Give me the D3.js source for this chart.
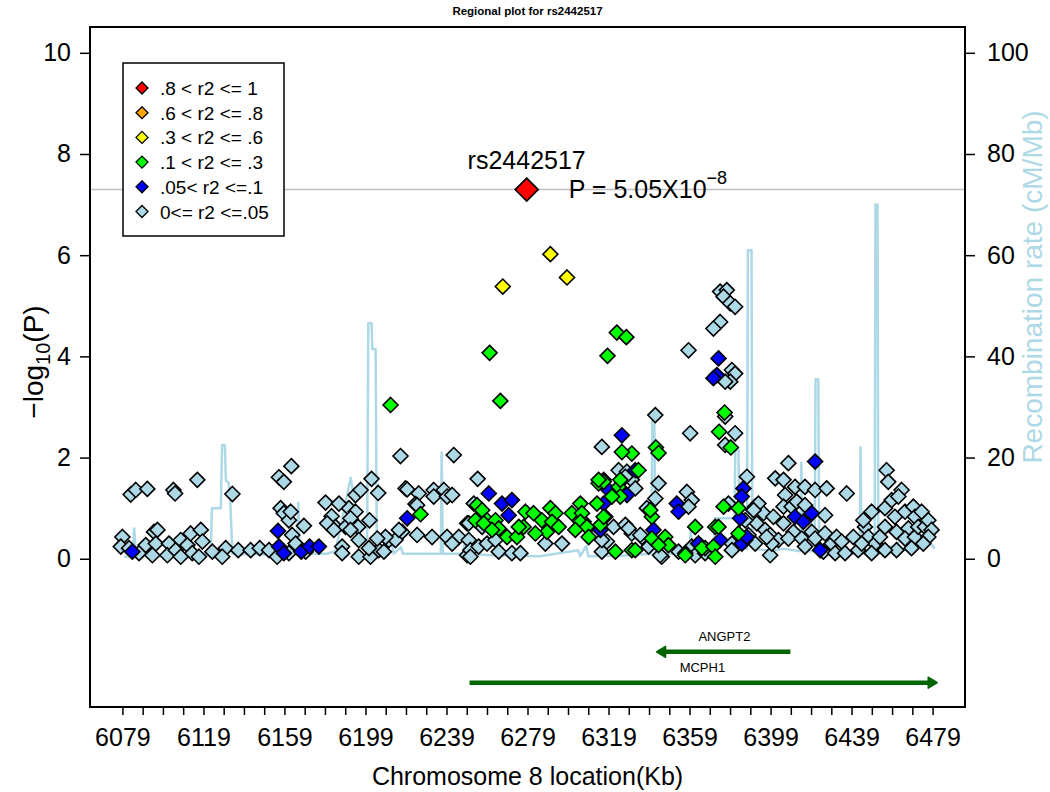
<!DOCTYPE html>
<html><head><meta charset="utf-8">
<script src="https://cdn.jsdelivr.net/npm/d3@7"></script>
<style>body{margin:0;background:#fff} text{font-family:"Liberation Sans",Arial,sans-serif;fill:#000}</style>
</head><body><svg id="c" width="1050" height="792"></svg>
<script>
// ---------- data ----------
const xTickLabels = [6079,6119,6159,6199,6239,6279,6319,6359,6399,6439,6479];
const yTickLabels = [0,2,4,6,8,10];
const recTickLabels = [0,20,40,60,80,100];
const legendLabels = [".8 < r2 <= 1",".6 < r2 <= .8",".3 < r2 <= .6",".1 < r2 <= .3",".05< r2 <=.1","0<= r2 <=.05"];
const legendColors = ["#FF0000","#FFA500","#FFFF00","#00FF00","#0000FF","#ADD8E6"];
const leadSnp = {name:"rs2442517", kb:6278.6, logp:7.2967, p:"5.05"};
const genomeWideLine = 7.3;

const snpRed = [[6278.6,7.2967]];
const snpYellow = [[6266.8,5.38],[6290.3,6.02],[6298.5,5.56]];
const snpGreen = [[6211.4,3.04],[6260.3,4.07],[6265.6,3.12],[6318.5,4.01],[6323.1,4.47],[6327.8,4.38],[6342.4,2.20],[6343.7,2.09],[6376.3,2.89],[6373.6,2.51],[6379.4,2.20],[6330.5,2.08],[6325.6,2.11],[6226.2,0.88],[6254.1,1.06],[6256.6,0.96],[6253.3,0.76],[6259.0,0.76],[6257.4,0.70],[6263.2,0.76],[6264.8,0.60],[6261.5,0.57],[6268.9,0.43],[6273.8,0.43],[6277.1,0.63],[6278.0,0.93],[6282.0,0.90],[6286.1,0.76],[6290.3,1.00],[6292.8,0.90],[6291.1,0.73],[6294.4,0.63],[6288.6,0.53],[6282.9,0.50],[6274.7,0.63],[6300.9,0.90],[6305.1,1.09],[6305.9,0.90],[6305.1,0.73],[6308.3,0.63],[6309.2,0.43],[6302.6,0.57],[6314.1,1.49],[6316.6,1.52],[6324.0,1.42],[6324.8,1.23],[6320.7,1.23],[6313.3,1.09],[6317.4,0.83],[6315.0,0.67],[6322.4,0.14],[6333.8,1.75],[6340.4,0.83],[6330.5,0.17],[6340.4,0.40],[6347.0,0.43],[6348.6,0.27],[6361.8,0.63],[6356.9,0.11],[6366.7,0.21],[6371.7,0.63],[6324.8,1.56],[6314.1,1.56],[6316.6,0.83],[6339.6,0.96],[6373.3,0.63],[6375.8,1.03],[6383.2,1.00],[6383.2,0.50],[6343.7,0.27],[6332.2,0.17],[6356.9,0.07],[6365.1,0.21],[6370.8,0.24],[6371.7,0.04]];
const snpBlue = [[6083.9,0.14],[6155.8,0.55],[6156.3,0.24],[6158.7,0.11],[6167.3,0.14],[6171.4,0.24],[6176.0,0.24],[6219.6,0.80],[6259.9,1.29],[6266.4,1.09],[6271.3,1.16],[6269.7,0.86],[6325.6,2.44],[6316.6,1.09],[6315.0,0.57],[6328.1,1.26],[6332.2,1.75],[6341.2,0.57],[6352.7,1.09],[6353.6,0.93],[6363.4,0.30],[6373.3,3.96],[6372.5,3.63],[6370.8,3.57],[6385.6,1.39],[6384.8,1.23],[6384.0,0.80],[6374.1,0.37],[6384.8,0.30],[6387.3,0.43],[6319.0,1.36],[6421.0,1.92],[6411.1,0.83],[6415.2,0.73],[6419.3,0.90],[6423.5,0.17]];
const snpLight = [
[6083.1,1.27],[6085.6,1.36],[6091.3,1.38],[6104.2,1.36],[6105.0,1.29],[6116.0,1.56],[6133.3,1.28],[6156.3,1.61],[6158.7,1.52],[6162.4,1.83],
[6179.3,1.11],[6182.3,0.84],[6184.2,0.63],[6180.1,0.70],[6194.1,1.26],[6196.6,1.36],[6202.0,1.58],[6205.3,1.30],[6216.3,2.03],[6218.8,1.39],
[6190.8,1.00],[6194.1,0.93],[6201.0,0.76],[6195.4,0.63],[6189.2,0.63],[6187.5,0.24],[6195.7,0.04],[6201.5,0.04],[6205.6,0.17],[6210.5,0.37],
[6217.1,0.53],[6213.8,0.37],[6208.9,0.43],[6079.0,0.43],[6078.2,0.24],[6082.3,0.21],[6087.2,0.11],[6090.5,0.27],[6094.6,0.53],[6096.3,0.57],
[6095.5,0.30],[6093.8,0.07],[6102.0,0.30],[6101.2,0.07],[6105.3,0.17],[6107.8,0.37],[6111.1,0.27],[6112.7,0.50],[6113.5,0.11],[6117.7,0.57],
[6118.5,0.34],[6116.8,0.04],[6107.8,0.04],[6123.4,0.14],[6130.0,0.21],[6128.3,0.04],[6136.2,0.17],[6142.3,0.17],[6146.8,0.21],[6151.4,0.17],
[6155.4,0.04],[6157.1,1.00],[6158.7,0.90],[6161.2,0.76],[6162.1,0.93],[6168.6,0.65],[6162.8,0.47],[6164.5,0.30],[6161.2,0.11],[6169.5,0.14],
[6187.5,0.11],[6200.7,0.21],[6183.4,0.57],[6185.9,1.09],[6191.6,0.80],[6191.6,0.57],[6195.7,0.37],[6204.8,0.40],[6208.1,0.14],[6242.6,2.05],
[6215.5,0.57],[6219.6,1.37],[6225.3,1.29],[6223.7,1.08],[6232.7,1.36],[6232.7,1.23],[6237.7,1.36],[6239.3,1.23],[6241.8,1.26],[6224.5,0.47],
[6231.9,0.43],[6239.3,0.43],[6245.1,0.43],[6241.8,0.30],[6249.2,0.70],[6249.2,0.07],[6254.4,1.58],[6224.5,1.06],[6250.0,0.37],[6250.8,0.17],
[6254.9,0.24],[6259.0,0.30],[6263.2,0.37],[6250.8,0.04],[6264.8,0.14],[6271.3,0.11],[6275.5,0.11],[6287.8,0.30],[6296.0,0.30],[6252.5,1.09],
[6250.0,0.70],[6256.6,0.63],[6315.7,2.21],[6342.1,2.84],[6359.3,2.48],[6343.7,1.49],[6342.1,1.19],[6337.9,1.00],[6324.0,1.75],[6328.1,1.72],
[6330.5,1.56],[6332.2,1.39],[6321.5,0.63],[6327.3,0.67],[6330.5,0.50],[6335.5,0.43],[6315.7,0.14],[6345.3,0.04],[6357.7,1.32],[6360.1,1.16],
[6358.5,1.03],[6313.3,0.50],[6318.2,0.34],[6306.7,0.73],
[6376.6,2.81],[6381.5,2.48],[6376.6,2.25],[6387.3,1.62],[6391.4,1.03],[6395.5,0.90],[6400.4,0.83],[6392.2,0.70],[6396.3,0.57],[6388.1,0.47],
[6391.4,0.30],[6398.8,0.47],[6402.9,0.37],[6398.8,0.07],[6379.9,0.30],[6407.8,1.89],[6401.3,1.59],[6405.4,1.56],[6411.1,1.42],[6406.2,1.26],
[6405.4,1.03],[6409.4,1.03],[6416.0,1.42],[6421.0,1.36],[6426.7,1.39],[6411.9,1.13],[6416.0,1.06],[6405.4,0.70],[6410.3,0.53],[6407.8,0.40],
[6414.4,0.40],[6419.3,0.53],[6417.7,0.83],[6425.9,0.86],[6421.0,0.40],[6416.0,0.24],[6425.9,0.50],[6429.2,0.30],[6425.1,0.14],[6431.6,0.43],
[6434.1,0.34],[6430.9,0.11],[6435.8,0.11],[6436.6,1.29],[6439.9,0.43],[6442.3,0.17],[6445.6,0.63],[6444.8,0.76],[6448.9,0.93],[6447.3,0.43],
[6450.6,0.30],[6453.0,0.43],[6448.9,0.11],[6455.5,0.63],[6456.3,1.75],[6457.1,1.52],[6455.5,1.00],[6458.8,1.16],[6463.7,1.36],[6462.1,1.23],
[6460.4,0.83],[6465.4,0.93],[6469.5,1.03],[6470.3,0.83],[6473.6,0.93],[6461.2,0.53],[6467.0,0.60],[6465.4,0.40],[6470.3,0.43],[6471.9,0.63],
[6475.2,0.63],[6476.9,0.76],[6478.5,0.57],[6476.9,0.43],[6474.4,0.30],[6461.2,0.17],[6468.6,0.21],[6455.5,0.17],[6444.0,0.30],
[6374.1,5.28],[6377.4,5.31],[6375.8,5.18],[6379.1,5.05],[6381.5,4.98],[6374.1,4.68],[6370.8,4.55],[6358.5,4.12],[6379.9,3.73],[6381.5,3.66],
[6379.1,3.50],[6376.6,3.50],[6378.2,1.09],[6393.0,1.09],[6390.6,0.96],[6386.5,0.76],[6334.7,0.47],[6328.9,0.60],[6327.3,1.62],[6316.6,1.56],
[6399.6,0.30],[6397.1,0.43],[6386.5,0.37],[6379.9,0.17],[6344.5,0.07],[6315.7,0.37],[6338.8,0.24],[6360.1,0.24],[6363.4,0.30],[6353.6,0.14],
[6361.8,0.07],[6366.7,0.11]
];
const recomb = [[6080,0.4],[6084,0.5],[6084.8,6],[6085.8,0.5],[6095,0.6],[6110,0.5],[6122.6,0.8],[6123.2,10],[6127.6,10],[6128.2,22.5],[6129.6,22.5],[6130.1,15.5],[6131.5,15],[6132.2,12],[6133.3,1],[6150,0.8],[6165.2,1],[6165.8,11],[6166.6,1],[6180,1],[6184.3,1.5],[6186,5],[6191.7,16],[6193.5,11.5],[6195,3],[6199.8,3],[6200.4,46.6],[6202,46.6],[6202.4,41.4],[6204,41.4],[6204.6,3],[6209,1.5],[6212,3],[6213,1],[6216.5,2.3],[6217.5,1],[6222,1],[6236.2,1],[6236.6,21],[6237.2,1],[6247,1],[6248,3],[6249,1],[6265,0.6],[6285,0.5],[6304,1.7],[6305,0.5],[6308,2.5],[6309,0.5],[6325,0.6],[6340.2,1],[6340.6,28],[6341.6,28],[6342.2,1],[6359,1],[6359.6,6],[6360.3,1],[6371,1],[6371.5,8],[6381.2,8],[6381.6,21.5],[6383.2,21.5],[6383.6,2],[6387.4,2],[6387.8,61],[6389.6,61],[6390,2],[6400,1.5],[6405,2],[6413.8,1.5],[6414.2,19],[6414.8,1.5],[6420.8,1.5],[6421.2,35.5],[6422.6,35.5],[6423,1.5],[6435,1],[6443,1],[6443.4,22],[6444,1],[6450.4,1.5],[6450.8,70],[6451.8,70],[6452.2,2],[6460,2.5],[6464,4],[6468,2.5],[6472,3.5],[6478,3],[6480,2]];
const genes = [
  {name:"ANGPT2", start:6343.7, end:6408.8, strand:"-", row:-1.84},
  {name:"MCPH1",  start:6250.4, end:6480.3, strand:"+", row:-2.45}
];

// ---------- layout ----------
const svg = d3.select("#c");
const L=90, R=965, T=27, B=707;
const x = d3.scaleLinear().domain([6063,6495]).range([L,R]);
const y = d3.scaleLinear().domain([-2.93,10.51]).range([B,T]);
const yR = d3.scaleLinear().domain([-29.3,105.1]).range([B,T]);
const FONT = '"Liberation Sans",Arial,sans-serif';

svg.append("defs").append("clipPath").attr("id","clip")
  .append("rect").attr("x",L).attr("y",T).attr("width",R-L).attr("height",B-T);

// title
svg.append("text").attr("x",(L+R)/2).attr("y",15).attr("text-anchor","middle")
  .attr("font-size",11.5).attr("font-weight","bold").text("Regional plot for rs2442517");

// genome-wide line
svg.append("line").attr("x1",L).attr("x2",R).attr("y1",y(genomeWideLine)).attr("y2",y(genomeWideLine))
  .attr("stroke","#BEBEBE").attr("stroke-width",1.5);

// recombination line
svg.append("path").datum(recomb).attr("clip-path","url(#clip)")
  .attr("fill","none").attr("stroke","#ADD8E6").attr("stroke-width",2.5).attr("stroke-linejoin","round")
  .attr("d", d3.line().x(d=>x(d[0])).y(d=>yR(d[1])));

// diamonds
const diamond = r => `M0,${-r}L${r},0L0,${r}L${-r},0Z`;
function drawPts(data, color, r){
  svg.append("g").selectAll("path").data(data).join("path")
    .attr("transform", d=>`translate(${x(d[0])},${y(d[1])})`)
    .attr("d", diamond(r)).attr("fill",color).attr("stroke","#000").attr("stroke-width",1.6);
}
drawPts(snpLight,"#ADD8E6",7.5);
drawPts(snpBlue,"#0000FF",7.5);
drawPts(snpGreen,"#00FF00",7.5);
drawPts(snpYellow,"#FFFF00",7.5);
drawPts(snpRed,"#FF0000",11.5);

// lead SNP annotation
svg.append("text").attr("x",x(leadSnp.kb)).attr("y",y(leadSnp.logp)-21).attr("text-anchor","middle")
  .attr("font-size",25).text(leadSnp.name);
const pt = svg.append("text").attr("x",x(leadSnp.kb)+42).attr("y",y(leadSnp.logp)+8).attr("font-size",25);
pt.append("tspan").text("P = " + leadSnp.p + "X10");
pt.append("tspan").attr("dy",-14).attr("font-size",18).text("\u22128");

// genes
const geneG = svg.append("g");
genes.forEach(g=>{
  const yy = y(g.row), x1 = x(g.start), x2 = x(g.end);
  geneG.append("line").attr("x1",x1).attr("x2",x2).attr("y1",yy).attr("y2",yy)
    .attr("stroke","#006400").attr("stroke-width",4.5);
  const tip = g.strand==="+" ? x2+2 : x1-2, dir = g.strand==="+" ? -1 : 1;
  geneG.append("path").attr("d",`M${tip},${yy}L${tip+dir*9},${yy-5.5}L${tip+dir*9},${yy+5.5}Z`)
    .attr("fill","#006400").attr("stroke","#006400").attr("stroke-width",1.5).attr("stroke-linejoin","round");
  geneG.append("text").attr("x",(x1+x2)/2).attr("y",yy-11).attr("text-anchor","middle")
    .attr("font-size",13).attr("fill","#222").text(g.name);
});

// axes
const xTicksAll = d3.range(6079, 6480, 10);
const xAxis = svg.append("g").attr("transform",`translate(0,${B})`)
  .call(d3.axisBottom(x).tickValues(xTicksAll).tickSize(8).tickPadding(13)
    .tickFormat(d=> xTickLabels.includes(d) ? d : ""));
const yAxis = svg.append("g").attr("transform",`translate(${L},0)`)
  .call(d3.axisLeft(y).tickValues(yTickLabels).tickSize(10).tickPadding(9));
const yrAxis = svg.append("g").attr("transform",`translate(${R},0)`)
  .call(d3.axisRight(yR).tickValues(recTickLabels).tickSize(10).tickPadding(12));
[xAxis,yAxis,yrAxis].forEach(a=>{
  a.select(".domain").remove();
  a.selectAll(".tick line").attr("stroke","#000").attr("stroke-width",1.5);
  a.selectAll(".tick text").attr("font-size",25).attr("font-family",FONT).attr("fill","#000");
});

// plot box
svg.append("rect").attr("x",L).attr("y",T).attr("width",R-L).attr("height",B-T)
  .attr("fill","none").attr("stroke","#000").attr("stroke-width",2);

// axis titles
svg.append("text").attr("x",(L+R)/2).attr("y",785).attr("text-anchor","middle")
  .attr("font-size",25).text("Chromosome 8 location(Kb)");
const yl = svg.append("text").attr("transform",`translate(43,362) rotate(-90)`)
  .attr("text-anchor","middle").attr("font-size",28);
yl.append("tspan").text("\u2212log");
yl.append("tspan").attr("font-size",20).attr("dy",7).text("10");
yl.append("tspan").attr("dy",-7).text("(P)");
svg.append("text").attr("transform",`translate(1042,287) rotate(-90)`)
  .attr("text-anchor","middle").attr("font-size",28).style("fill","#ADD8E6")
  .text("Recombination rate (cM/Mb)");

// legend
const lg = svg.append("g");
lg.append("rect").attr("x",123).attr("y",63).attr("width",161).attr("height",173)
  .attr("fill","#fff").attr("stroke","#000").attr("stroke-width",1.5);
legendLabels.forEach((t,i)=>{
  const cy = 88 + i*24.7;
  lg.append("path").attr("transform",`translate(142,${cy})`).attr("d",diamond(6))
    .attr("fill",legendColors[i]).attr("stroke","#000").attr("stroke-width",1.3);
  lg.append("text").attr("x",160).attr("y",cy+7).attr("font-size",19).text(t);
});
</script></body></html>
